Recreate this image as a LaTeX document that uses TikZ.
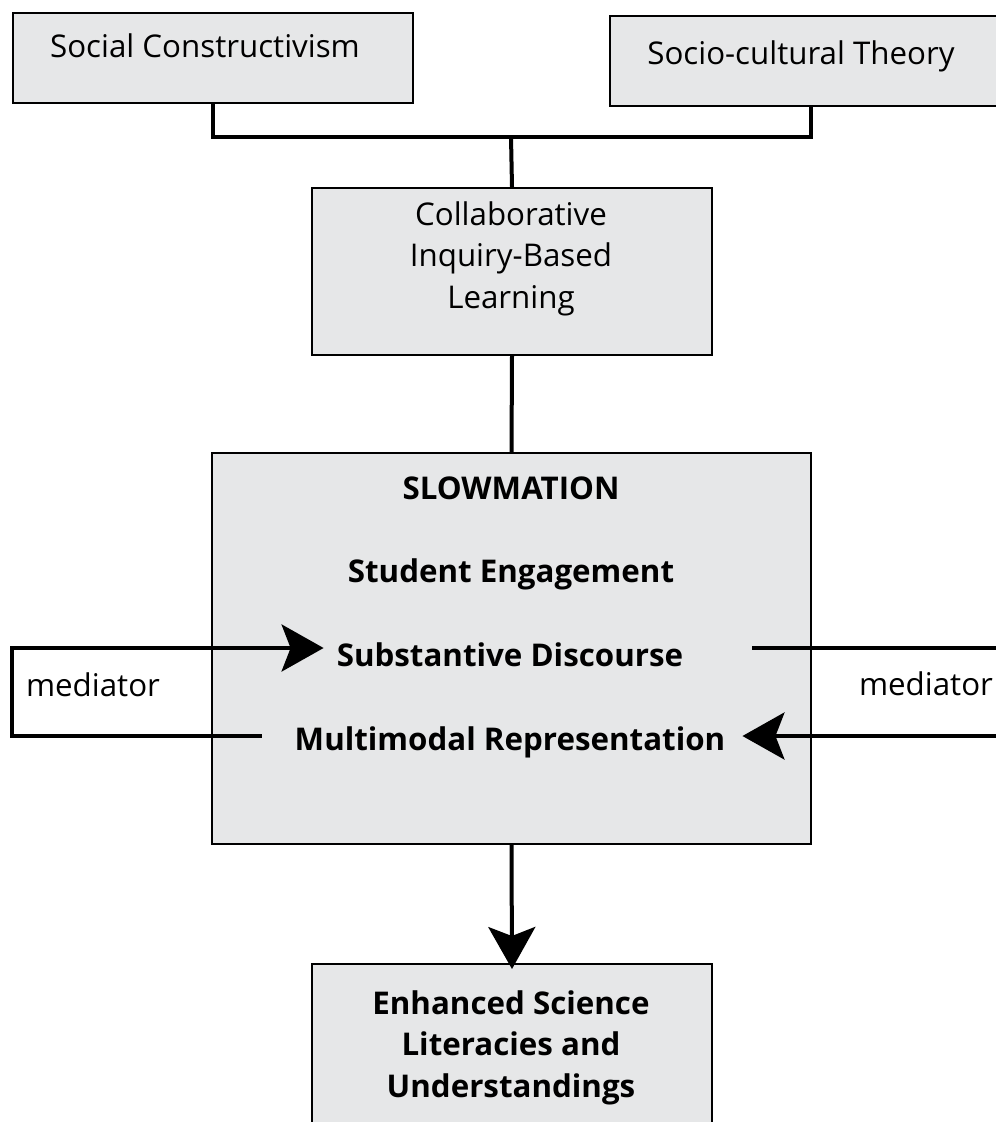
\documentclass[tikz,border=0pt]{standalone}
\usepackage{fontspec}
\setmainfont{Open Sans}
\usetikzlibrary{arrows.meta}
\definecolor{boxgray}{HTML}{E6E7E8}

\begin{document}
\begin{tikzpicture}[x=1pt,y=-1pt,
    box/.style={draw=black, line width=2pt, fill=boxgray, inner sep=0pt, anchor=north west},
    txt/.style={inner sep=0pt, anchor=base, align=center, font=\fontsize{31.3}{41.5}\selectfont},
    btxt/.style={txt, font=\fontsize{31.3}{41.5}\selectfont\bfseries},
    conn/.style={line width=4pt},
    arr/.style={conn, -{Stealth[length=42pt, width=47pt, inset=9pt]}}]
  \useasboundingbox (0,0) rectangle (996,1122);
  \clip (0,0) rectangle (996,1122);

  % boxes
  \node[box, minimum width=400pt, minimum height=90pt] (soc) at (12,12) {};
  \node[box, minimum width=402pt, minimum height=90pt] (soci) at (609,15) {};
  \node[box, minimum width=400pt, minimum height=167pt] (cib) at (311,187) {};
  \node[box, minimum width=599pt, minimum height=391pt] (slow) at (211,452) {};
  \node[box, minimum width=400pt, minimum height=200pt] (esl) at (311,963) {};

  % texts (base = last line)
  \node[txt] (soctxt) at (205,57) {Social Constructivism};
  \node[txt] (socitxt) at (801,64) {Socio-cultural Theory};
  \node[txt] (cibtxt) at (511,308) {Collaborative\\Inquiry-Based\\Learning};
  \node[btxt] (slowtxt) at (511,499) {SLOWMATION};
  \node[btxt] (eng) at (511,582) {Student Engagement};
  \node[btxt] (sub) at (510,666) {Substantive Discourse};
  \node[btxt] (multi) at (510,750) {Multimodal Representation};
  \node[btxt] (esltxt) at (511,1097) {Enhanced Science\\Literacies and\\Understandings};
  \node[txt] (medl) at (93,696) {mediator};
  \node[txt] (medr) at (926,695) {mediator};

  % connectors
  \coordinate (join) at (511,137);
  \draw[conn] (soc.south) |- (join) -| (soci.south);
  \draw[conn] (join) -- (cib.north);
  \draw[conn] (cib.south) -- (slow.north);
  \draw[arr] (slow.south) -- ([yshift=-6pt]esl.north);

  % mediator loops
  \coordinate (ltop) at (12,648);
  \coordinate (lbot) at (12,736);
  \coordinate (rtop) at (996,648);
  \coordinate (rbot) at (996,736);
  \draw[arr] ([xshift=-33pt]multi.west |- lbot) -- (lbot) -- (ltop) -- ([xshift=-13pt]sub.west |- ltop);
  \draw[conn] ([xshift=69pt]sub.east |- rtop) -- (rtop);
  \draw[arr] (rbot) -- ([xshift=17pt]multi.east |- rbot);
\end{tikzpicture}
\end{document}
